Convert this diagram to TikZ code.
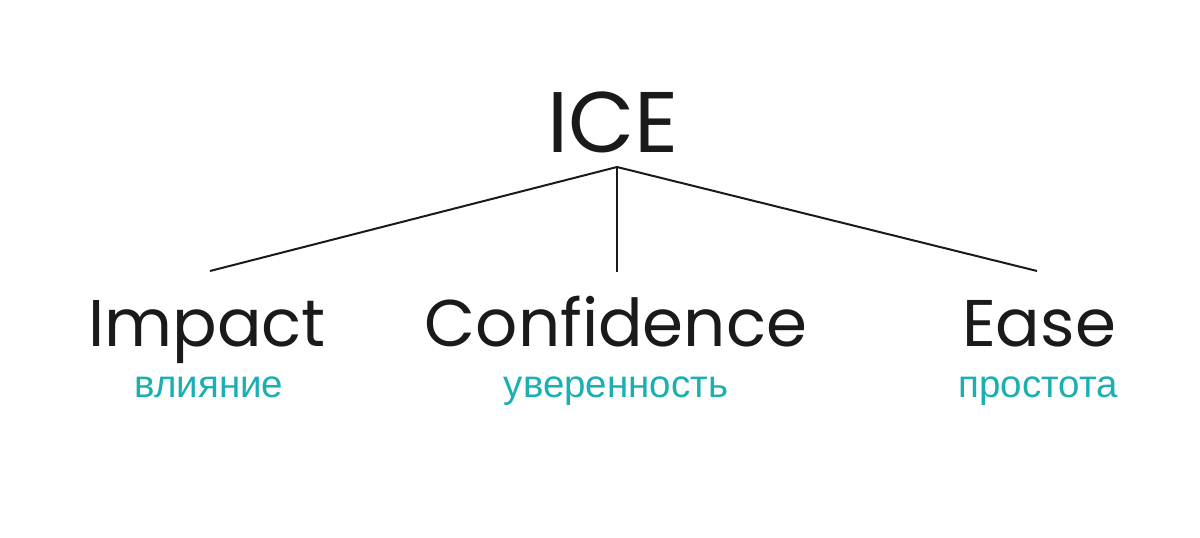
\documentclass[tikz,border=0pt]{standalone}
\usepackage{fontspec}
\setmainfont{Poppins}
\newfontfamily\cyrfont{Liberation Sans}
\definecolor{inkc}{HTML}{1A1A1A}
\definecolor{tealc}{HTML}{1AAFB0}
\tikzset{
  x=1pt,y=1pt,
  title/.style={inner sep=0pt,anchor=base,text=inkc,font=\fontsize{86}{90}\selectfont},
  term/.style={inner sep=0pt,anchor=base,text=inkc,font=\fontsize{66}{70}\selectfont},
  trans/.style={inner sep=0pt,anchor=base,text=tealc,font=\cyrfont\fontsize{38.5}{42}\selectfont},
  link/.style={draw=inkc,line width=2pt}
}
\begin{document}
\begin{tikzpicture}
\useasboundingbox[fill=white] (0,0) rectangle (1200,538);
\node[title] (ice) at (613,385) {ICE};
\node[term] (impact) at (207,191) {Impact};
\node[term] (confidence) at (616,191) {Confidence};
\node[term] (ease) at (1039,191) {Ease};
\node[trans] (vl) at (209,140) {влияние};
\node[trans] (uv) at (616,140) {уверенность};
\node[trans] (pr) at (1038,140) {простота};
\coordinate (apex) at (617,371);
\coordinate (lend) at (210,267);
\coordinate (mend) at (617,266);
\coordinate (rend) at (1037,267);
\draw[link] (apex) -- (lend);
\draw[link] (apex) -- (mend);
\draw[link] (apex) -- (rend);
\end{tikzpicture}
\end{document}
